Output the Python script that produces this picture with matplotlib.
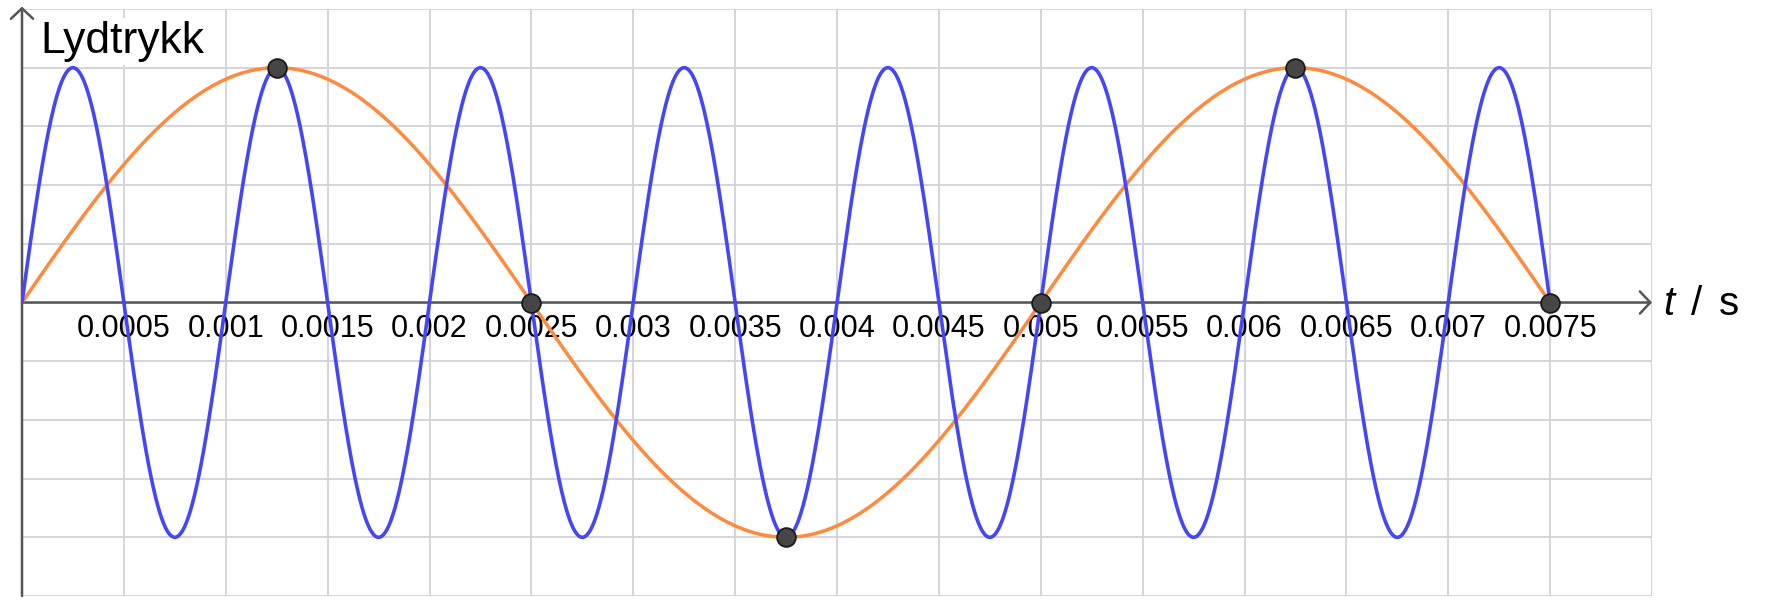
import numpy as np
import matplotlib
matplotlib.use("Agg")
import matplotlib.pyplot as plt

# ---- data ----
amplitude = 1.0
freq_blue = 1000.0     # Hz (period 0.001 s)
freq_orange = 200.0    # Hz (period 0.005 s)
t_end = 0.0075
point_t = [0.00125, 0.0025, 0.00375, 0.005, 0.00625, 0.0075]
point_p = [1.0, 0.0, -1.0, 0.0, 1.0, 0.0]
x_ticks = [0.0, 0.0005, 0.001, 0.0015, 0.002, 0.0025, 0.003, 0.0035, 0.004,
           0.0045, 0.005, 0.0055, 0.006, 0.0065, 0.007, 0.0075, 0.008]
x_labels = ["", "0.0005", "0.001", "0.0015", "0.002", "0.0025", "0.003", "0.0035",
            "0.004", "0.0045", "0.005", "0.0055", "0.006", "0.0065", "0.007", "0.0075", ""]
y_grid = [-1.25, -1.0, -0.75, -0.5, -0.25, 0.0, 0.25, 0.5, 0.75, 1.0, 1.25]
y_marks = [-1.0, -0.5, 0.5, 1.0]
y_label = "Lydtrykk"

plt.rcParams['font.family'] = ['Liberation Sans', 'DejaVu Sans']

W, H = 1776, 608
fig = plt.figure(figsize=(W / 100, H / 100), dpi=100)
fig.patch.set_facecolor('white')
ax = fig.add_axes([22 / W, 12 / H, 1630 / W, 587 / H])
ax.set_xlim(0, 0.008)
ax.set_ylim(-1.25, 1.25)

for s in ax.spines.values():
    s.set_visible(False)
ax.spines['bottom'].set_position(('data', 0))

ax.set_xticks(x_ticks)
ax.set_xticklabels(x_labels)
ax.set_yticks(y_grid)
ax.set_yticklabels([])
ax.set_yticks(y_marks, minor=True)
ax.tick_params(axis='x', length=0, labelsize=22, pad=8.5, labelcolor='black')
ax.tick_params(axis='y', which='major', length=0)
ax.tick_params(axis='y', which='minor', length=3.5, width=1.5, color='#555555', direction='out')
ax.grid(True, which='major', color='#D4D4DC', linewidth=1.4, zorder=0)
ax.set_axisbelow(True)

axis_col = '#555555'
ap = dict(arrowstyle='->,head_length=0.75,head_width=0.8', color=axis_col, lw=1.8,
          shrinkA=0, shrinkB=0)
ax.annotate('', xy=(0.008, 0), xytext=(0, 0), arrowprops=ap, annotation_clip=False, zorder=2)
ax.annotate('', xy=(0, 1.26), xytext=(0, -1.25), arrowprops=ap, annotation_clip=False, zorder=2)

t = np.linspace(0, t_end, 3000)
ax.plot(t, amplitude * np.sin(2 * np.pi * freq_orange * t), color='#FF8A3C', lw=2.5, zorder=3,
        solid_capstyle='round')
ax.plot(t, amplitude * np.sin(2 * np.pi * freq_blue * t), color='#4646F6', lw=2.6, zorder=4,
        solid_capstyle='round')
ax.plot(point_t, point_p, linestyle='none', marker='o', markersize=13.5,
        markerfacecolor='#464646', markeredgecolor='#1A1A1A', markeredgewidth=1.3,
        zorder=5, clip_on=False)

fig.text(40 / W, 1 - 53 / H, y_label, fontsize=32, ha='left', va='baseline', color='black',
         bbox=dict(facecolor='white', edgecolor='none', pad=2), zorder=6)
fig.text(1663 / W, 1 - 315 / H, 't', fontsize=29, style='italic', ha='left', va='baseline')
fig.text(1691 / W, 1 - 315 / H, '/', fontsize=29, ha='left', va='baseline')
fig.text(1719 / W, 1 - 315 / H, 's', fontsize=29, ha='left', va='baseline')

fig.savefig('out.png', dpi=100, facecolor='white')
